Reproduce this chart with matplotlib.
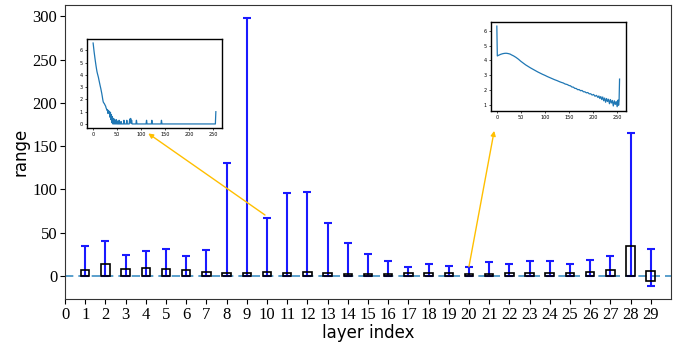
import matplotlib
matplotlib.use("Agg")
import matplotlib.pyplot as plt
import numpy as np

# ---------------- data ----------------
layers = list(range(1, 30))
whisker_hi = [35, 40, 24.2, 29.2, 31.2, 23.5, 30.4, 130, 298, 67.3,
              96.2, 96.5, 61.2, 38.5, 25, 17.3, 10.8, 14.2, 11.9, 10.4,
              16.5, 13.8, 16.9, 17.7, 13.5, 18.1, 22.7, 165.4, 31.2]
whisker_lo = [0, 0, 0, 0, 0, 0, 0, 0, 0, 0,
              0, 0, 0, 0, 0, 0, 0, 0, 0, 0,
              0, 0, 0, 0, 0, 0, 0, 0, -11.5]
box_hi = [6.5, 14.2, 7.7, 9.6, 8.5, 6.5, 4.6, 3.5, 3.5, 4.2,
          3.8, 5.0, 3.5, 2.5, 2.5, 2.5, 3.0, 3.5, 3.0, 2.5,
          2.5, 3.0, 3.8, 3.8, 3.5, 4.6, 6.9, 34.6, 6.2]
box_lo = [0, 0, 0, 0, 0, 0, 0, 0, 0, 0,
          0, 0, 0, 0, 0, 0, 0, 0, 0, 0,
          0, 0, 0, 0, 0, 0, 0, 0, -6.2]
xticks = list(range(0, 30))
yticks = [0, 50, 100, 150, 200, 250, 300]

# inset for layer 10 (left)
left_x = [0, 1, 2, 3, 4, 5, 6, 7, 8, 9,
          10, 11, 12, 13, 14, 15, 16, 17, 18, 19,
          20, 21, 22, 23, 24, 25, 26, 27, 28, 29,
          30, 31, 32, 33, 34, 35, 36, 37, 38, 39,
          40, 41, 42, 43, 44, 45, 46, 47, 48, 49,
          50, 51, 53, 54, 55, 57, 58, 59, 63, 64,
          65, 69, 70, 71, 75, 76, 77, 78, 79, 80,
          81, 89, 90, 91, 110, 111, 112, 121, 122, 123,
          141, 142, 143, 254, 255]
left_y = [6.6, 6.25, 5.9, 5.6, 5.3, 5.02, 4.75, 4.5, 4.27, 4.1,
          3.95, 3.8, 3.6, 3.42, 3.23, 3.05, 2.88, 2.68, 2.48, 2.25,
          2.0, 1.8, 1.72, 1.68, 1.6, 1.52, 1.45, 1.3, 1.22, 1.1,
          1.15, 0.85, 1.1, 0.95, 1.0, 0.55, 0.95, 0.35, 0.75, 0.1,
          0.6, 0.0, 0.45, 0.0, 0.4, 0.0, 0.3, 0.0, 0.35, 0.0,
          0.25, 0.0, 0.0, 0.3, 0.0, 0.0, 0.2, 0.0, 0.0, 0.3,
          0.0, 0.0, 0.3, 0.0, 0.0, 0.4, 0.1, 0.45, 0.05, 0.3,
          0.0, 0.0, 0.3, 0.0, 0.0, 0.3, 0.0, 0.0, 0.3, 0.0,
          0.0, 0.3, 0.0, 0.0, 1.0]

# inset for layer 20 (right)
right_x = [0, 1, 2, 4, 6, 8, 10, 12, 15, 18,
           20, 22, 25, 28, 30, 35, 40, 45, 50, 55,
           60, 65, 70, 75, 80, 85, 90, 95, 100, 105,
           110, 115, 120, 125, 130, 134, 138, 142, 146, 150,
           153, 156, 159, 162, 165, 168, 171, 174, 177, 180,
           183, 186, 189, 192, 195, 198, 201, 204, 207, 210,
           212, 214, 216, 218, 220, 222, 224, 226, 228, 230,
           232, 234, 236, 238, 240, 242, 244, 246, 248, 250,
           252, 253, 254, 255]
right_y = [6.3, 4.3, 4.32, 4.35, 4.38, 4.41, 4.43, 4.45, 4.47, 4.48,
           4.48, 4.47, 4.45, 4.42, 4.38, 4.3, 4.2, 4.08, 3.94, 3.82,
           3.7, 3.6, 3.5, 3.41, 3.32, 3.23, 3.15, 3.07, 3.0, 2.92,
           2.85, 2.78, 2.71, 2.65, 2.58, 2.53, 2.49, 2.42, 2.39, 2.32,
           2.3, 2.22, 2.21, 2.13, 2.12, 2.04, 2.05, 1.97, 1.99, 1.9,
           1.9, 1.83, 1.85, 1.76, 1.77, 1.68, 1.72, 1.6, 1.66, 1.52,
           1.62, 1.45, 1.58, 1.38, 1.55, 1.3, 1.48, 1.2, 1.45, 1.25,
           1.4, 1.1, 1.38, 1.15, 1.32, 0.95, 1.3, 1.05, 1.25, 0.9,
           1.35, 1.0, 1.3, 2.75]
inset_xticks = [0, 50, 100, 150, 200, 250]

# ---------------- figure ----------------
fig = plt.figure(figsize=(6.86, 3.45), dpi=100)
ax = fig.add_axes([0.0948, 0.1325, 0.8832, 0.853])

box_h = [h - l for h, l in zip(box_hi, box_lo)]
ax.bar(layers, box_h, bottom=box_lo, width=0.42, fill=False,
       edgecolor='black', linewidth=1.2, zorder=3)
err_up = [h - l for h, l in zip(whisker_hi, whisker_lo)]
ax.errorbar(layers, whisker_lo, yerr=[[0] * len(layers), err_up], fmt='none',
            ecolor='#1a1aff', elinewidth=1.5, capsize=3.2, capthick=1.5, zorder=2)
ax.axhline(0, color='#3d8fc4', linestyle=(0, (5, 3)), linewidth=1.2, zorder=1)

ax.set_xlim(0, 30)
ax.set_ylim(-27, 313)
ax.set_xticks(xticks)
ax.set_yticks(yticks)
for lab in ax.get_xticklabels() + ax.get_yticklabels():
    lab.set_family('Liberation Serif')
    lab.set_fontsize(12)
ax.tick_params(length=3.5, width=0.8, pad=2)
for s in ax.spines.values():
    s.set_color('#333333')
ax.set_xlabel('layer index', fontsize=12, family='DejaVu Sans', labelpad=1)
ax.set_ylabel('range', fontsize=12, family='DejaVu Sans', labelpad=2)

arrow_color = '#ffbf00'
ax.annotate('', xy=(4.12, 164.6), xytext=(9.9, 70.4),
            arrowprops=dict(arrowstyle='-|>', color=arrow_color, lw=1.0,
                            mutation_scale=7, shrinkA=0, shrinkB=0))
ax.annotate('', xy=(21.25, 167.6), xytext=(20.0, 10.7),
            arrowprops=dict(arrowstyle='-|>', color=arrow_color, lw=1.0,
                            mutation_scale=7, shrinkA=0, shrinkB=0))

# insets
ins1 = fig.add_axes([0.1268, 0.629, 0.1968, 0.258])
ins1.plot(left_x, left_y, color='#1f77b4', linewidth=0.9)
ins2 = fig.add_axes([0.7153, 0.679, 0.1968, 0.257])
ins2.plot(right_x, right_y, color='#1f77b4', linewidth=0.9)
for ins in (ins1, ins2):
    ins.set_xticks(inset_xticks)
    ins.tick_params(labelsize=3.5, length=1.5, width=0.5, pad=1.5)
    for s in ins.spines.values():
        s.set_linewidth(1.0)
ins1.set_yticks([0, 1, 2, 3, 4, 5, 6])
ins2.set_yticks([1, 2, 3, 4, 5, 6])

fig.savefig('out.png', dpi=100)
